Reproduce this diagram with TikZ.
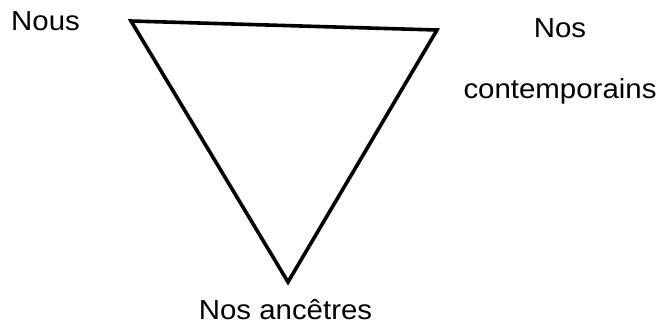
\documentclass[tikz,border=0pt]{standalone}
\usepackage{fontspec}
\setmainfont{Liberation Sans}
\tikzset{lbl/.style={font=\fontsize{27.5}{30}\selectfont, inner sep=0pt, anchor=base, xscale=1.07}}
\begin{document}
\begin{tikzpicture}[x=1pt,y=-1pt]
\useasboundingbox (0,0) rectangle (666,327);
\coordinate (tl) at (131,21);
\coordinate (tr) at (437,30);
\coordinate (bt) at (288,282);
\draw[line width=3.6pt, line join=miter] (tl) -- (tr) -- (bt) -- cycle;
\node[lbl] (nous) at (45.5,30) {Nous};
\node[lbl] (nos) at (560,37) {Nos};
\node[lbl] (cont) at (560,98) {contemporains};
\node[lbl] (anc) at (285.5,319) {Nos ancêtres};
\end{tikzpicture}
\end{document}
